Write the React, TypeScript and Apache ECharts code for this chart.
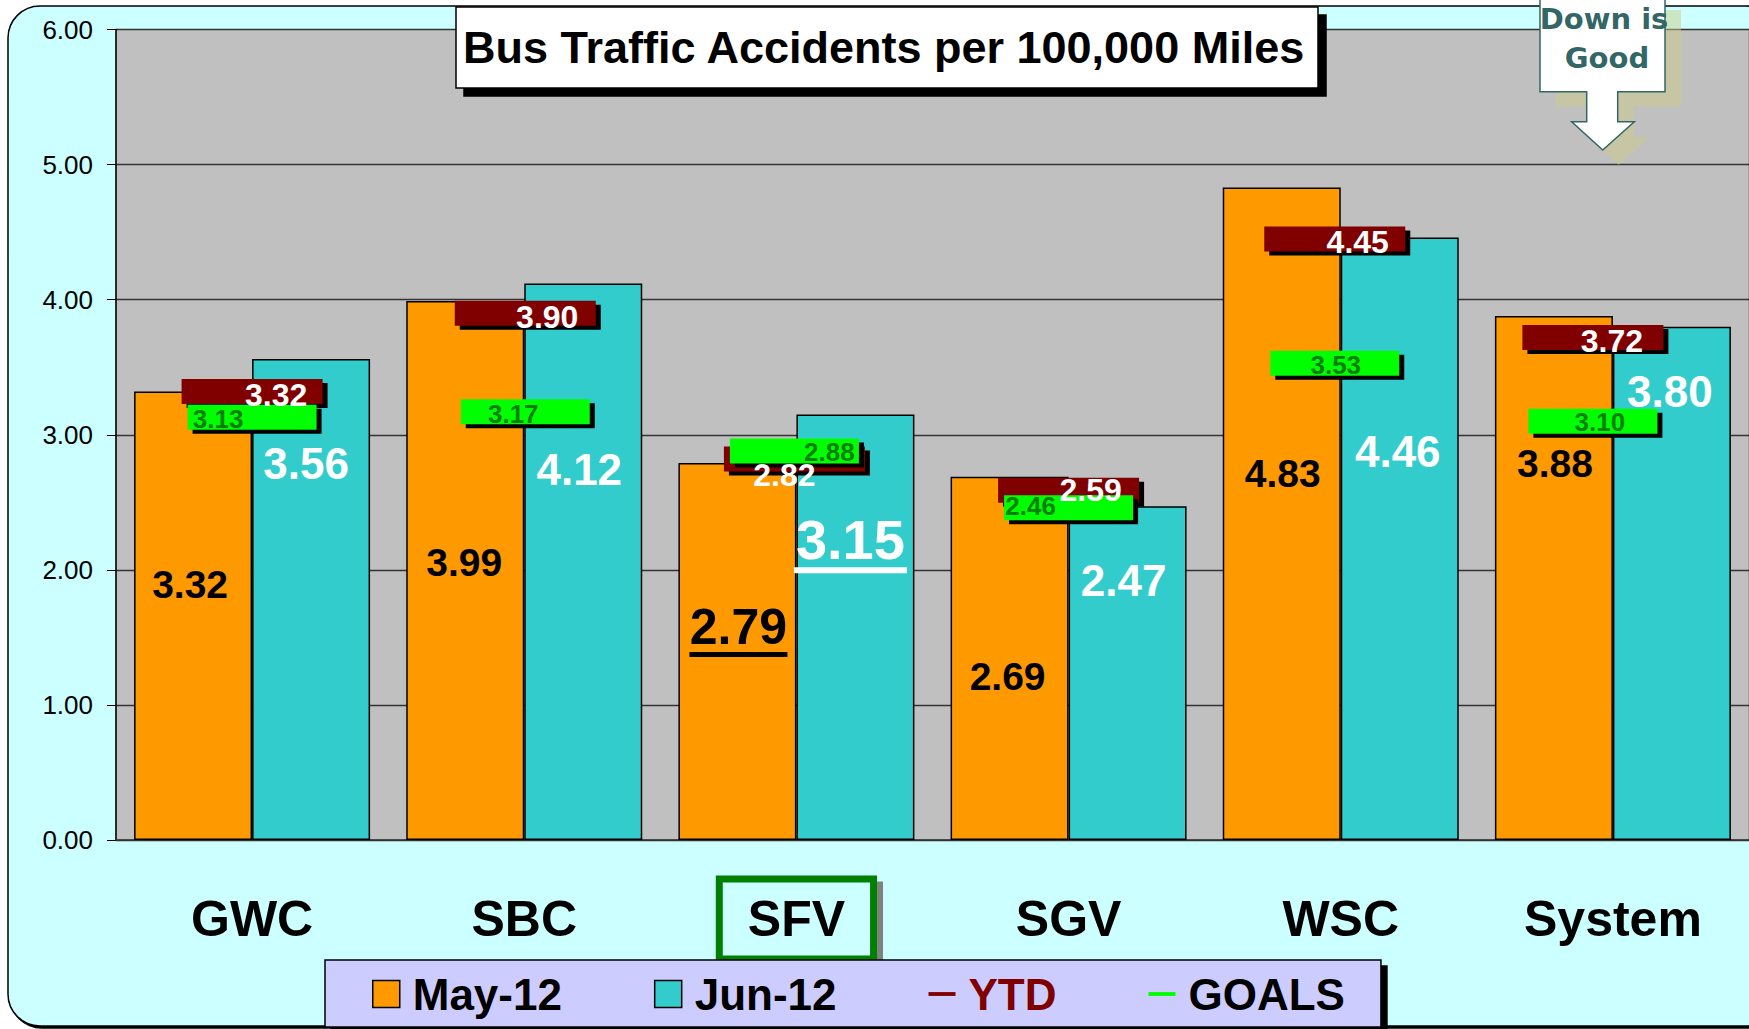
import React, { useEffect, useRef } from "react";
import * as echarts from "echarts";

// ---------- data ----------
const categories = ["GWC", "SBC", "SFV", "SGV", "WSC", "System"];
const mayValues = [3.32, 3.99, 2.79, 2.69, 4.83, 3.88];
const junValues = [3.56, 4.12, 3.15, 2.47, 4.46, 3.8];
const ytdValues = [3.32, 3.9, 2.82, 2.59, 4.45, 3.72];
const goalValues = [3.13, 3.17, 2.88, 2.46, 3.53, 3.1];
const seriesNames = ["May-12", "Jun-12", "YTD", "GOALS"];
const highlightIndex = 2;
const titleText = "Bus Traffic Accidents per 100,000 Miles";
const calloutLines = ["Down is", "Good"];
const yMin = 0;
const yMax = 6;
const yInterval = 1;

// ---------- layout (label offsets, px) ----------
const mayLabelShift = [[-3, -31], [-1, -8], [1, -25], [-2, 18], [1, -40], [1, -114]];
const junLabelShift = [[-5, -136], [-4, -92], [-5, -88], [-4, -93], [-2, -87], [-2, -192]];
const markerShift = [0, 1, -2, 0, -6, -20];
const ytdLabelShift = [[24, 3], [22, 4], [-10, 16], [22, 0], [23, 3], [19, 4]];
const goalLabelShift = [[-34, 2], [-12, 2], [35, 1], [-38, -2], [1, 2], [7, 1]];

const FONT = '"Liberation Sans", Arial, sans-serif';
const BAR_W = 118;
const HALF = BAR_W / 2;
const YTD_W = 141;
const GOAL_W = 129;
const MARK_H = 25;

const COLORS = {
  may: "#FF9900",
  jun: "#33CCCC",
  ytd: "#800000",
  goal: "#00FF00",
  goalText: "#008000",
  plot: "#C0C0C0",
  bg: "#CCFFFF",
  legend: "#CCCCFF",
  callout: "#336666",
  calloutShadow: "rgba(204,204,136,0.5)",
};

const underlineStyle = [
  { width: 98, thick: 5, dy: 28, color: "#000" },
  { width: 113, thick: 6, dy: 31, color: "#fff" },
];

export default function App() {
  const ref = useRef<HTMLDivElement>(null);

  useEffect(() => {
    document.body.style.margin = "0";
    const chart = echarts.init(ref.current!, null, { renderer: "svg" });

    const catLabelBase = {
      fontSize: 50,
      fontWeight: "bold",
      color: "#000",
      fontFamily: FONT,
      lineHeight: 73,
      padding: [11.5, 25],
    };

    const calloutPts = [
      [1540, -5], [1665, -5], [1665, 91.7], [1617.7, 91.7], [1617.7, 121.7],
      [1634.3, 121.7], [1602.7, 150], [1571.7, 121.7], [1586.7, 121.7],
      [1586.7, 91.7], [1540, 91.7],
    ];
    const shadowPts = calloutPts.map((p) => [p[0] + 16, p[1] + 15]);
    const calloutText = [
      { x: 1604, y: 18.5 },
      { x: 1607, y: 57.5 },
    ];

    const option: any = {
      animation: false,
      textStyle: { fontFamily: FONT },
      title: {
        text: titleText,
        left: 456,
        top: 7,
        padding: [15, 12, 15, 7],
        backgroundColor: "#fff",
        borderColor: "#000",
        borderWidth: 1.5,
        shadowColor: "#000",
        shadowOffsetX: 8,
        shadowOffsetY: 8,
        shadowBlur: 0,
        textStyle: { fontSize: 45, fontWeight: "bold", color: "#000", fontFamily: FONT, lineHeight: 51 },
        z: 8,
      },
      legend: {
        left: 325,
        top: 960,
        orient: "horizontal",
        padding: [10, 36, 9, 47],
        itemWidth: 27,
        itemHeight: 27,
        itemGap: 92,
        backgroundColor: COLORS.legend,
        borderColor: "#000",
        borderWidth: 1.5,
        shadowColor: "#000",
        shadowOffsetX: 6,
        shadowOffsetY: 6,
        shadowBlur: 0,
        selectedMode: false,
        textStyle: { fontSize: 44, fontWeight: "bold", color: "#000", fontFamily: FONT, lineHeight: 48, padding: [0, 0, 0, 8] },
        data: [
          { name: seriesNames[0], icon: "rect", itemStyle: { color: COLORS.may, borderColor: "#000", borderWidth: 1.5 } },
          { name: seriesNames[1], icon: "rect", itemStyle: { color: COLORS.jun, borderColor: "#000", borderWidth: 1.5 } },
          { name: seriesNames[2], icon: "path://M0,0H28V4H0Z", itemStyle: { color: COLORS.ytd, borderWidth: 0 }, textStyle: { color: COLORS.ytd } },
          { name: seriesNames[3], icon: "path://M0,0H28V4H0Z", itemStyle: { color: COLORS.goal, borderWidth: 0 } },
        ],
        z: 6,
      },
      grid: {
        left: 116,
        right: 0,
        top: 29.5,
        bottom: 189,
        show: true,
        backgroundColor: COLORS.plot,
        borderColor: "#808080",
        borderWidth: 1,
      },
      xAxis: [
        {
          type: "category",
          data: categories,
          axisLine: { lineStyle: { color: "#333", width: 1.5 } },
          axisTick: { length: 17, lineStyle: { color: "#000", width: 1.2 } },
          axisLabel: {
            interval: 0,
            margin: 42.5,
            formatter: (v: string, i: number) => (i === highlightIndex ? `{hl|${v}}` : `{n|${v}}`),
            rich: {
              n: catLabelBase,
              hl: {
                ...catLabelBase,
                borderColor: "#008000",
                borderWidth: 7,
                backgroundColor: COLORS.bg,
                shadowColor: "#808080",
                shadowOffsetX: 6,
                shadowOffsetY: 6,
                shadowBlur: 0,
              },
            },
          },
          splitLine: { show: false },
        },
        {
          type: "category",
          data: categories,
          position: "bottom",
          axisLine: { show: false },
          axisTick: { inside: true, length: 18, lineStyle: { color: "#000", width: 1.2 } },
          axisLabel: { show: false },
          splitLine: { show: false },
        },
      ],
      yAxis: {
        type: "value",
        min: yMin,
        max: yMax,
        interval: yInterval,
        axisLine: { show: true, lineStyle: { color: "#000", width: 1.5 } },
        axisTick: { show: true, length: 9, lineStyle: { color: "#000" } },
        axisLabel: {
          margin: 23,
          fontSize: 26,
          color: "#000",
          fontFamily: FONT,
          formatter: (v: number) => v.toFixed(2),
        },
        splitLine: { lineStyle: { color: "#333", width: 1.3 } },
      },
      series: [
        {
          type: "bar",
          name: seriesNames[0],
          barWidth: BAR_W,
          barGap: "0%",
          itemStyle: { color: COLORS.may, borderColor: "#000", borderWidth: 1.5 },
          label: {
            show: true,
            position: "inside",
            formatter: (p: any) => Number(p.value).toFixed(2),
            color: "#000",
            fontWeight: "bold",
            fontSize: 39,
            fontFamily: FONT,
          },
          data: mayValues.map((v, i) => ({
            value: v,
            label: { offset: mayLabelShift[i], fontSize: i === highlightIndex ? 50 : 39 },
          })),
          z: 2,
        },
        {
          type: "bar",
          name: seriesNames[1],
          barWidth: BAR_W,
          barGap: "0%",
          itemStyle: { color: COLORS.jun, borderColor: "#000", borderWidth: 1.5 },
          label: {
            show: true,
            position: "inside",
            formatter: (p: any) => Number(p.value).toFixed(2),
            color: "#fff",
            fontWeight: "bold",
            fontSize: 44,
            fontFamily: FONT,
          },
          data: junValues.map((v, i) => ({
            value: v,
            label: { offset: junLabelShift[i], fontSize: i === highlightIndex ? 56 : 44 },
          })),
          z: 2,
        },
        {
          type: "custom",
          name: seriesNames[2],
          z: 3,
          encode: { x: 0, y: 1 },
          data: ytdValues.map((v, i) => [i, v]),
          itemStyle: { color: COLORS.ytd },
          renderItem: (params: any, api: any) => {
            const i = api.value(0);
            const c = api.coord([i, api.value(1)]);
            const x = c[0] + markerShift[i] - YTD_W / 2;
            const y = c[1] - MARK_H / 2;
            return {
              type: "group",
              children: [
                { type: "rect", z2: 1, shape: { x: x + 5, y: y + 4, width: YTD_W, height: MARK_H }, style: { fill: "#000" } },
                { type: "rect", z2: 2, shape: { x, y, width: YTD_W, height: MARK_H }, style: { fill: COLORS.ytd } },
              ],
            };
          },
        },
        {
          type: "custom",
          name: seriesNames[3],
          z: 4,
          encode: { x: 0, y: 1 },
          data: goalValues.map((v, i) => [i, v]),
          itemStyle: { color: COLORS.goal },
          renderItem: (params: any, api: any) => {
            const i = api.value(0);
            const c = api.coord([i, api.value(1)]);
            const x = c[0] + markerShift[i] - GOAL_W / 2;
            const y = c[1] - MARK_H / 2;
            return {
              type: "group",
              children: [
                { type: "rect", z2: 1, shape: { x: x + 5, y: y + 4, width: GOAL_W, height: MARK_H }, style: { fill: "#000" } },
                { type: "rect", z2: 2, shape: { x, y, width: GOAL_W, height: MARK_H }, style: { fill: COLORS.goal } },
              ],
            };
          },
        },
        {
          type: "custom",
          name: "markerLabels",
          z: 5,
          encode: { x: 0, y: [1, 2] },
          data: ytdValues.map((v, i) => [i, v, goalValues[i]]),
          renderItem: (params: any, api: any) => {
            const i = api.value(0);
            const yv = api.value(1);
            const gv = api.value(2);
            const cy = api.coord([i, yv]);
            const cg = api.coord([i, gv]);
            return {
              type: "group",
              children: [
                {
                  type: "text",
                  z2: 1,
                  x: cg[0] + markerShift[i] + goalLabelShift[i][0],
                  y: cg[1] + goalLabelShift[i][1],
                  style: {
                    text: gv.toFixed(2),
                    fill: COLORS.goalText,
                    fontSize: 26,
                    fontWeight: "bold",
                    fontFamily: FONT,
                    align: "center",
                    verticalAlign: "middle",
                  },
                },
                {
                  type: "text",
                  z2: 2,
                  x: cy[0] + markerShift[i] + ytdLabelShift[i][0],
                  y: cy[1] + ytdLabelShift[i][1],
                  style: {
                    text: yv.toFixed(2),
                    fill: "#fff",
                    fontSize: 32,
                    fontWeight: "bold",
                    fontFamily: FONT,
                    align: "center",
                    verticalAlign: "middle",
                  },
                },
              ],
            };
          },
        },
        {
          type: "custom",
          name: "underline",
          z: 6,
          encode: { x: 0, y: 1 },
          data: [
            [highlightIndex, mayValues[highlightIndex], 0],
            [highlightIndex, junValues[highlightIndex], 1],
          ],
          renderItem: (params: any, api: any) => {
            const i = api.value(0);
            const v = api.value(1);
            const side = api.value(2);
            const c = api.coord([i, v / 2]);
            const shift = side === 0 ? mayLabelShift[i] : junLabelShift[i];
            const u = underlineStyle[side];
            const cx = c[0] + (side === 0 ? -HALF : HALF) + shift[0];
            const cyy = c[1] + shift[1] + u.dy;
            return {
              type: "rect",
              shape: { x: cx - u.width / 2, y: cyy - u.thick / 2, width: u.width, height: u.thick },
              style: { fill: u.color },
            };
          },
        },
      ],
      graphic: [
        {
          type: "rect",
          z: -10,
          shape: { x: 8, y: 6, width: 1770, height: 1020, r: 32 },
          style: {
            fill: COLORS.bg,
            stroke: "#000",
            lineWidth: 1.5,
            shadowColor: "#000",
            shadowOffsetX: 2,
            shadowOffsetY: 2,
            shadowBlur: 0,
          },
        },
        { type: "polygon", z: 10, shape: { points: shadowPts }, style: { fill: COLORS.calloutShadow } },
        {
          type: "polygon",
          z: 11,
          shape: { points: calloutPts },
          style: { fill: "#fff", stroke: COLORS.callout, lineWidth: 1.5 },
        },
        ...calloutLines.map((t, k) => ({
          type: "text",
          z: 12,
          x: calloutText[k].x,
          y: calloutText[k].y,
          style: {
            text: t,
            fill: COLORS.callout,
            font: 'bold 29px "DejaVu Sans", sans-serif',
            align: "center",
            verticalAlign: "middle",
          },
        })),
      ],
    };

    chart.setOption(option);
    return () => chart.dispose();
  }, []);

  return <div ref={ref} style={{ width: 1749, height: 1029 }} />;
}
